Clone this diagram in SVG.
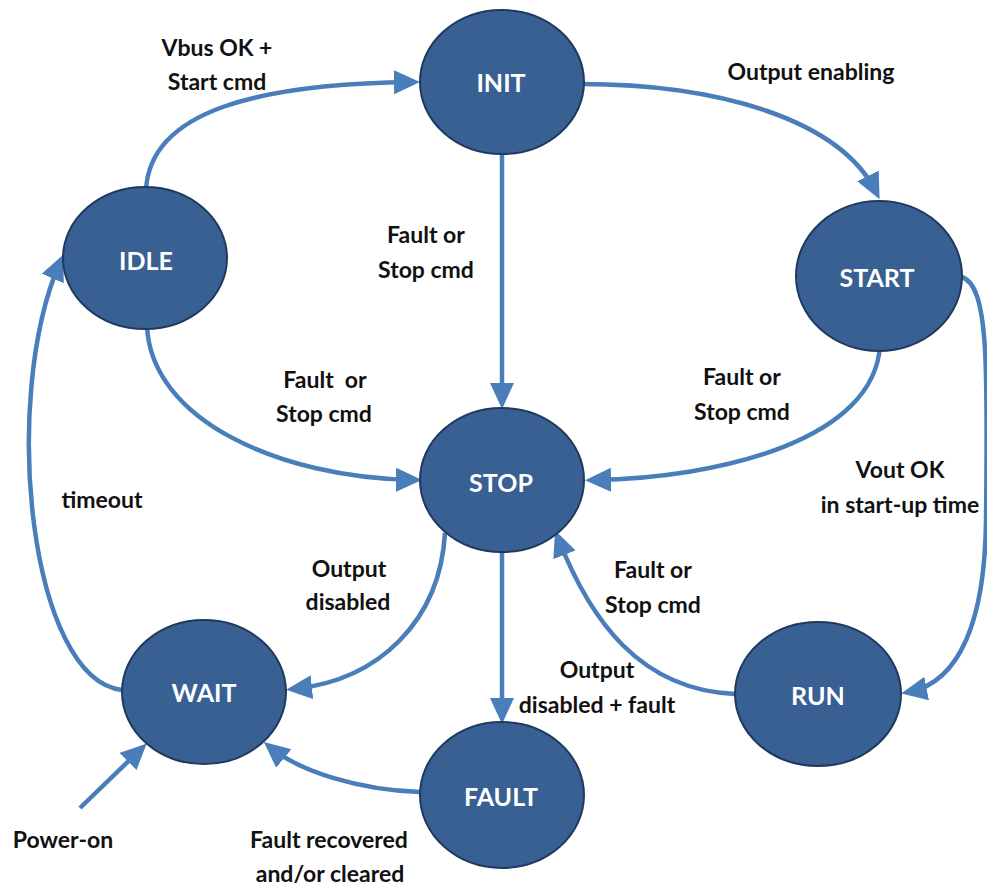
<svg xmlns="http://www.w3.org/2000/svg" width="987" height="889" viewBox="0 0 987 889">
<defs>
<style>
.node{fill:#386093;stroke:#1f3a5e;stroke-width:2}
.nl{font-family:Lato,"Open Sans","Liberation Sans",sans-serif;font-weight:bold;font-size:25px;fill:#ffffff;text-anchor:middle}
.edge{fill:none;stroke:#4a7ebb;stroke-width:4.5;marker-end:url(#ah)}
.lbl{font-family:Lato,"Open Sans","Liberation Sans",sans-serif;font-weight:bold;font-size:23px;fill:#111111;text-anchor:middle}
</style>
<marker id="ah" markerUnits="userSpaceOnUse" markerWidth="27" markerHeight="25" refX="18" refY="12" orient="auto">
<path d="M0,0 L26,12 L0,24 z" fill="#4a7ebb"/>
</marker>
</defs>
<rect width="987" height="889" fill="#ffffff"/>
<g id="connectors">
<path class="edge" d="M146 190 C150 110 260 84 412 82"/>
<path class="edge" d="M580 84 C720 84 840 120 876 192"/>
<path class="edge" d="M502 150 L502 401"/>
<path class="edge" d="M147 325 C150 420 280 478 414 480"/>
<path class="edge" d="M880 345 C875 440 720 478 593 480"/>
<path class="edge" d="M962 277 C988 286 988 360 986 520 C985 620 960 682 909 692"/>
<path class="edge" d="M735 694 C640 690 590 620 558 538"/>
<path class="edge" d="M502 550 L502 716"/>
<path class="edge" d="M445 533 C440 620 380 680 294 689"/>
<path class="edge" d="M420 792 C360 790 300 772 270 747"/>
<path class="edge" d="M122 690 C30 680 0 400 60 262"/>
<path class="edge" d="M80 808 L141 749"/>
</g>
<g id="node-init"><ellipse class="node" cx="502" cy="82" rx="82" ry="72"/><text class="nl" x="501" y="92">INIT</text></g>
<g id="node-idle"><ellipse class="node" cx="145" cy="258" rx="82" ry="71"/><text class="nl" x="146" y="270">IDLE</text></g>
<g id="node-start"><ellipse class="node" cx="879" cy="276" rx="83" ry="75"/><text class="nl" x="877" y="287">START</text></g>
<g id="node-stop"><ellipse class="node" cx="502" cy="480" rx="82" ry="72"/><text class="nl" x="501" y="492">STOP</text></g>
<g id="node-wait"><ellipse class="node" cx="204" cy="692" rx="82" ry="72"/><text class="nl" x="204" y="702">WAIT</text></g>
<g id="node-run"><ellipse class="node" cx="818" cy="694" rx="83" ry="72"/><text class="nl" x="818" y="705">RUN</text></g>
<g id="node-fault"><ellipse class="node" cx="502" cy="795" rx="82" ry="73"/><text class="nl" x="501" y="806">FAULT</text></g>
<g id="labels">
<text class="lbl" x="217" y="56">Vbus OK +</text>
<text class="lbl" x="217" y="90">Start cmd</text>
<text class="lbl" x="811" y="80">Output enabling</text>
<text class="lbl" x="426" y="243">Fault or</text>
<text class="lbl" x="426" y="278">Stop cmd</text>
<text class="lbl" x="325" y="388" xml:space="preserve">Fault  or</text>
<text class="lbl" x="324" y="422">Stop cmd</text>
<text class="lbl" x="742" y="385">Fault or</text>
<text class="lbl" x="742" y="420">Stop cmd</text>
<text class="lbl" x="900" y="478">Vout OK</text>
<text class="lbl" x="900" y="513">in start-up time</text>
<text class="lbl" x="102" y="508">timeout</text>
<text class="lbl" x="349" y="577">Output</text>
<text class="lbl" x="348" y="610">disabled</text>
<text class="lbl" x="653" y="578">Fault or</text>
<text class="lbl" x="653" y="613">Stop cmd</text>
<text class="lbl" x="597" y="678">Output</text>
<text class="lbl" x="597" y="713">disabled + fault</text>
<text class="lbl" x="63" y="848">Power-on</text>
<text class="lbl" x="329" y="848">Fault recovered</text>
<text class="lbl" x="330" y="882">and/or cleared</text>
</g>
</svg>
